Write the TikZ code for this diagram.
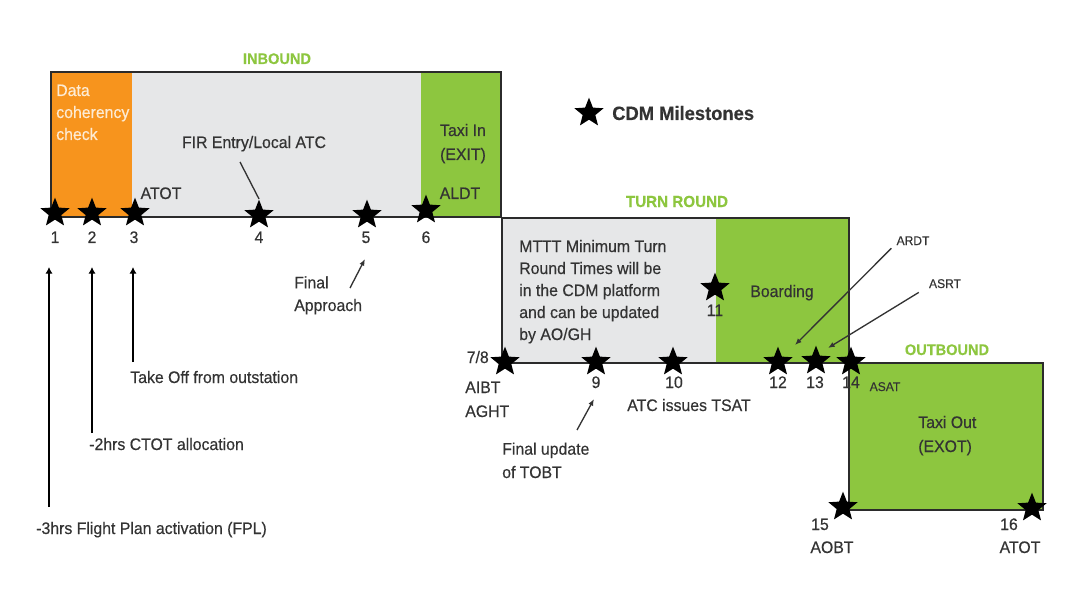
\documentclass[tikz,border=0pt]{standalone}
\usepackage{fontspec}
\setmainfont{Liberation Sans}[FakeStretch=0.95,FakeBold=0.4]
\usetikzlibrary{shapes.geometric,arrows.meta}
\definecolor{cdmorange}{HTML}{F7941D}
\definecolor{cdmgreen}{HTML}{8DC63F}
\definecolor{cdmgray}{HTML}{E6E7E8}
\definecolor{cdmline}{HTML}{2B2B2B}
\definecolor{cdmtext}{HTML}{333333}
\definecolor{cdmcream}{HTML}{FDEBD3}
\begin{document}
\begin{tikzpicture}[x=0.75pt,y=-0.75pt,
  milestone/.style={star,star points=5,star point ratio=2.3,fill=black,draw=none,minimum size=23pt,inner sep=0pt},
  lbl/.style={font=\fontsize{12.5}{16.5}\selectfont,text=cdmtext,inner sep=0pt,align=left},
  smalllbl/.style={font=\fontsize{9.5}{12}\selectfont,text=cdmtext,inner sep=0pt},
  phase/.style={font=\bfseries\fontsize{11.5}{14}\selectfont,text=cdmgreen,inner sep=0pt},
  box/.style={draw=cdmline,line width=1.5pt},
  pointer/.style={draw=cdmtext,line width=1pt,-{Latex[length=5pt,width=4pt]}},
  uparrow/.style={draw=black,line width=2.2pt,-{Latex[length=5pt,width=5.5pt]}}]
\useasboundingbox (0,0) rectangle (1065,610);

% ---------- phase boxes ----------
\fill[cdmorange] (51,72) rectangle (132,217);
\fill[cdmgray] (132,72) rectangle (421,217);
\fill[cdmgreen] (421,72) rectangle (501,217);
\draw[box] (51,217) -- (51,72) -- (501,72) -- (501,217);
\fill[cdmgray] (502,218) rectangle (716,363);
\fill[cdmgreen] (716,218) rectangle (849,363);
\draw[box] (502,363) -- (502,218) -- (849,218) -- (849,363);
\draw[box] (51,217) -- (502,217);
\draw[box] (502,363) -- (849,363);
\draw[box, fill=cdmgreen] (849,363) rectangle (1043,510);

% ---------- phase titles ----------
\node[phase,anchor=base] (inb) at (277,64) {INBOUND};
\node[phase,anchor=base,font=\bfseries\fontsize{12}{14}\selectfont] (turn) at (677,207) {TURN ROUND};
\node[phase,anchor=base] (outb) at (947,355) {OUTBOUND};

% ---------- legend ----------
\node[milestone] (legstar) at (589,113) {};
\node[font=\bfseries\fontsize{14.5}{16}\selectfont,text=cdmtext,inner sep=0pt,anchor=base west] (legtxt) at (612,120) {CDM Milestones};

% ---------- inbound texts ----------
\node[lbl,anchor=base west,text=cdmcream] (dcc) at (56,140) {Data\\coherency\\check};
\node[lbl,anchor=base] (fir) at (254,148) {FIR Entry/Local ATC};
\node[lbl,anchor=base,align=center,font=\fontsize{12.5}{18}\selectfont] (taxiin) at (463,160) {Taxi In\\(EXIT)};
\node[lbl,anchor=base] (atot1) at (161,199) {ATOT};
\node[lbl,anchor=base] (aldt) at (460,199) {ALDT};

% ---------- inbound milestones ----------
\node[milestone] (m1) at (55,213) {};
\node[milestone] (m2) at (92,213) {};
\node[milestone] (m3) at (135,213) {};
\node[milestone] (m4) at (259,215) {};
\node[milestone] (m5) at (367,215) {};
\node[milestone] (m6) at (426,210) {};
\node[lbl,anchor=base] (n1) at (55,243) {1};
\node[lbl,anchor=base] (n2) at (92,243) {2};
\node[lbl,anchor=base] (n3) at (134,243) {3};
\node[lbl,anchor=base] (n4) at (259,243) {4};
\node[lbl,anchor=base] (n5) at (366,243) {5};
\node[lbl,anchor=base] (n6) at (426,243) {6};

% ---------- left explanations ----------
\node[lbl,anchor=base west] (takeoff) at (130,383) {Take Off from outstation};
\node[lbl,anchor=base west] (ctot) at (89,450) {-2hrs CTOT allocation};
\node[lbl,anchor=base west] (fpl) at (36,534) {-3hrs Flight Plan activation (FPL)};
\node[lbl,anchor=base west,font=\fontsize{12.5}{17}\selectfont] (finapp) at (294,311) {Final\\Approach};
\coordinate (a1s) at (49,507);
\coordinate (a1e) at (49,267);
\coordinate (a2s) at (92,433);
\coordinate (a2e) at (92,267);
\coordinate (a3s) at (133,362);
\coordinate (a3e) at (133,267);
\draw[uparrow] (a1s) -- (a1e);
\draw[uparrow] (a2s) -- (a2e);
\draw[uparrow] (a3s) -- (a3e);
\coordinate (firs) at (240,162);
\draw[draw=cdmtext,line width=1pt] (firs) -- (m4.north);
\coordinate (fas) at (350,288);
\coordinate (fae) at (365,259);
\draw[pointer] (fas) -- (fae);

% ---------- turn round texts ----------
\node[lbl,anchor=base west] (mttt) at (519,340) {MTTT Minimum Turn\\Round Times will be\\in the CDM platform\\and can be updated\\by AO/GH};
\node[lbl,anchor=base] (boarding) at (782,297) {Boarding};
\node[milestone] (m11) at (715,288) {};
\node[lbl,anchor=base] (n11) at (715,316) {11};

% ---------- turn round milestones ----------
\node[milestone] (m78) at (505,362) {};
\node[milestone] (m9) at (596,362) {};
\node[milestone] (m10) at (673,362) {};
\node[milestone] (m12) at (778,362) {};
\node[milestone] (m13) at (816,361) {};
\node[milestone] (m14) at (851,362) {};
\node[lbl,anchor=base east] (n78) at (489,363) {7/8};
\node[lbl,anchor=base west,font=\fontsize{12.5}{18}\selectfont] (aibt) at (465,417) {AIBT\\AGHT};
\node[lbl,anchor=base] (n9) at (596,388) {9};
\node[lbl,anchor=base] (n10) at (674,388) {10};
\node[lbl,anchor=base] (n12) at (778,388) {12};
\node[lbl,anchor=base] (n13) at (815,388) {13};
\node[lbl,anchor=base] (n14) at (851,388) {14};
\node[lbl,anchor=base] (tsat) at (689,411) {ATC issues TSAT};
\node[smalllbl,anchor=base] (asat) at (885,391) {ASAT};
\node[lbl,anchor=base west,font=\fontsize{12.5}{17.5}\selectfont] (fut) at (502,478) {Final update\\of TOBT};
\coordinate (fus) at (577,430);
\coordinate (fue) at (594,399);
\draw[pointer] (fus) -- (fue);

% ---------- ARDT / ASRT ----------
\node[smalllbl,anchor=base] (ardt) at (913,245) {ARDT};
\node[smalllbl,anchor=base] (asrt) at (945,288) {ASRT};
\coordinate (ardte) at (795,345);
\coordinate (asrte) at (828,348);
\draw[pointer] (ardt.south west) ++(-5,3) -- (ardte);
\draw[pointer] (asrt.south west) ++(-10,4) -- (asrte);

% ---------- outbound ----------
\node[lbl,anchor=base west,font=\fontsize{12.5}{18}\selectfont] (taxiout) at (918,452) {Taxi Out\\(EXOT)};
\node[milestone] (m15) at (843,507) {};
\node[milestone] (m16) at (1032,508) {};
\node[lbl,anchor=base] (n15) at (820,530) {15};
\node[lbl,anchor=base] (aobt) at (832,553) {AOBT};
\node[lbl,anchor=base] (n16) at (1009,530) {16};
\node[lbl,anchor=base] (atot2) at (1020,553) {ATOT};
\end{tikzpicture}
\end{document}
